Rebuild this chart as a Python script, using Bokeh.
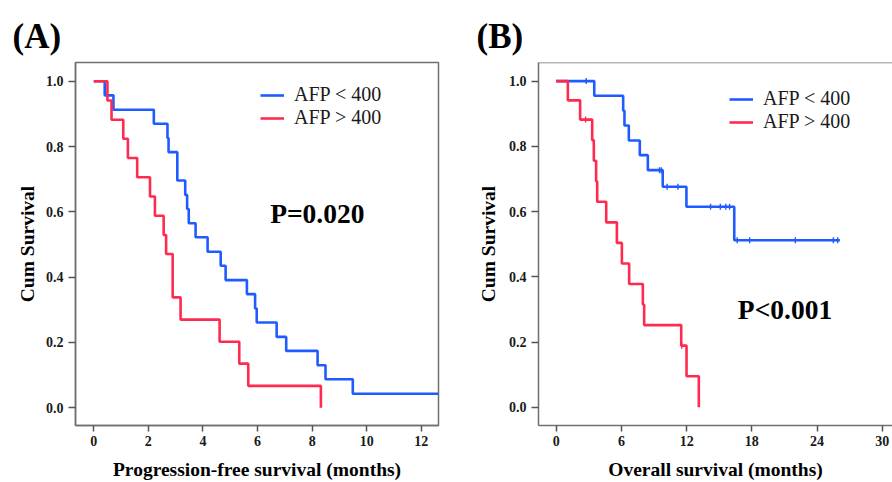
import numpy as np
from bokeh.plotting import figure
from bokeh.layouts import row
from bokeh.models import (Range1d, FixedTicker, PrintfTickFormatter, Legend,
                          LegendItem, Label, Span, ColumnDataSource)
from bokeh.embed import file_html
from bokeh.resources import INLINE

# ---------------- data ----------------
group_labels = ["AFP < 400", "AFP > 400"]
group_colors = ["#1f5bff", "#ff2a4f"]

# Panel A: progression-free survival (months)
pfs_low_time = [0, 0.40, 0.72, 2.20, 2.70, 2.74, 3.06, 3.35, 3.42, 3.48, 3.73,
                4.17, 4.65, 4.83, 5.61, 5.91, 5.97, 6.70, 7.05, 8.20, 8.49, 9.49, 13.5]
pfs_low_surv = [1.0, 0.957, 0.913, 0.870, 0.826, 0.783, 0.696, 0.652, 0.609, 0.565, 0.522,
                0.478, 0.435, 0.391, 0.348, 0.304, 0.261, 0.217, 0.174, 0.130, 0.087, 0.043, 0.043]
pfs_high_time = [0, 0.50, 0.65, 1.08, 1.25, 1.59, 2.06, 2.24, 2.56, 2.65, 2.89, 3.18,
                 4.61, 5.33, 5.66, 8.32]
pfs_high_surv = [1.0, 0.941, 0.882, 0.824, 0.765, 0.706, 0.647, 0.588, 0.529, 0.471, 0.338, 0.270,
                 0.202, 0.135, 0.067, 0.0]

# Panel B: overall survival (months)
os_low_time = [0, 3.50, 6.16, 6.28, 6.68, 7.69, 8.43, 9.80, 11.98, 16.38, 26.1]
os_low_surv = [1.0, 0.955, 0.909, 0.864, 0.818, 0.773, 0.727, 0.676, 0.615, 0.512, 0.512]
os_low_censor = [2.76, 9.50, 9.66, 10.2, 11.2, 14.2, 15.1, 15.6, 15.95, 16.65, 17.8, 22.0, 25.5, 25.9]
os_high_time = [0, 1.07, 2.20, 3.31, 3.46, 3.67, 3.77, 4.60, 5.58, 6.04, 6.71, 7.97, 8.09,
                11.50, 11.99, 13.12]
os_high_surv = [1.0, 0.941, 0.882, 0.819, 0.756, 0.693, 0.630, 0.567, 0.504, 0.441, 0.378,
                0.315, 0.252, 0.189, 0.095, 0.0]
os_high_censor = [2.70, 11.55]

pfs_x_ticks = [0, 2, 4, 6, 8, 10, 12]
os_x_ticks = [0, 6, 12, 18, 24, 30]
y_ticks = [0.0, 0.2, 0.4, 0.6, 0.8, 1.0]
panel_titles = ["(A)", "(B)"]
x_titles = ["Progression-free survival (months)", "Overall survival (months)"]
y_title = "Cum Survival"
p_texts = ["P=0.020", "P<0.001"]

SERIF = "Liberation Serif"
FRAME = "#6f6f6f"
TXT = "#1a1a1a"


def surv_at(times, survs, t):
    idx = 0
    for i, tt in enumerate(times):
        if tt <= t:
            idx = i
    return survs[idx]


def make_panel(title, xr, yr, xticks, xlabel, border, curves, censors,
               legend_loc, ptext, ppos, title_offset, full_outline, ylab_standoff):
    p = figure(width=border["w"], height=482, x_range=Range1d(*xr), y_range=Range1d(*yr),
               output_backend="svg", toolbar_location=None, title=title,
               min_border_left=border["l"], min_border_right=border["r"],
               min_border_top=border["t"], min_border_bottom=border["b"])
    p.background_fill_color = "white"
    p.border_fill_color = "white"
    p.xgrid.visible = False
    p.ygrid.visible = False
    if full_outline:
        p.outline_line_color = FRAME
        p.outline_line_width = 1.5
    else:
        p.outline_line_color = None
        p.add_layout(Span(location=yr[1], dimension="width", line_color=FRAME, line_width=1.5))

    p.title.text_font = SERIF
    p.title.text_font_size = "35px"
    p.title.text_font_style = "bold"
    p.title.text_color = "#000000"
    p.title.align = "left"
    p.title.offset = title_offset
    p.title.standoff = 14

    for ax in (p.xaxis[0], p.yaxis[0]):
        ax.axis_line_color = FRAME
        ax.axis_line_width = 1.5
        ax.major_tick_line_color = "#555555"
        ax.major_tick_line_width = 1.5
        ax.major_tick_in = 0
        ax.minor_tick_line_color = None
        ax.major_label_text_font = SERIF
        ax.major_label_text_font_size = "14px"
        ax.major_label_text_font_style = "bold"
        ax.major_label_text_color = TXT
        ax.axis_label_text_font = SERIF
        ax.axis_label_text_font_size = "19.5px"
        ax.axis_label_text_font_style = "bold"
        ax.axis_label_text_color = "#000000"

    p.xaxis.ticker = FixedTicker(ticks=xticks)
    p.xaxis.major_tick_out = 6
    p.xaxis.major_label_standoff = 4
    p.xaxis.axis_label = xlabel
    p.xaxis.axis_label_standoff = 10

    p.yaxis.ticker = FixedTicker(ticks=y_ticks)
    p.yaxis.formatter = PrintfTickFormatter(format="%.1f")
    p.yaxis.major_tick_out = 7
    p.yaxis.major_label_standoff = 5
    p.yaxis.axis_label = y_title
    p.yaxis.axis_label_standoff = ylab_standoff

    items = []
    for (t, s), label, color, cens in zip(curves, group_labels, group_colors, censors):
        src = ColumnDataSource(dict(t=t, s=s))
        r = p.step("t", "s", source=src, mode="after", line_color=color, line_width=2.6)
        items.append(LegendItem(label=label, renderers=[r]))
        if cens:
            cy = [surv_at(t, s, c) for c in cens]
            p.scatter(cens, cy, marker="dash", angle=np.pi / 2, size=6,
                      line_color=color, line_width=1.4)

    legend = Legend(items=items, location=legend_loc)
    legend.label_text_font = SERIF
    legend.label_text_font_size = "20px"
    legend.label_text_color = TXT
    legend.glyph_width = 24
    legend.glyph_height = 22
    legend.label_height = 22
    legend.label_standoff = 10
    legend.spacing = 0
    legend.padding = 0
    legend.margin = 0
    legend.border_line_color = None
    legend.background_fill_alpha = 0
    p.add_layout(legend)

    p.add_layout(Label(x=ppos[0], y=ppos[1], text=ptext, text_font=SERIF,
                       text_font_size="27.5px", text_font_style="bold",
                       text_color="#000000", text_align="center", text_baseline="middle"))
    return p


pA = make_panel(panel_titles[0], (-0.67, 12.63), (-0.0545, 1.0576), pfs_x_ticks, x_titles[0],
                dict(w=448, l=75, r=10, t=59, b=56),
                [(pfs_low_time, pfs_low_surv), (pfs_high_time, pfs_high_surv)],
                [[], []], (185, 296), p_texts[0], (8.19, 0.594), -63, True, 5)

pB = make_panel(panel_titles[1], (-1.63, 30.94), (-0.0558, 1.057), os_x_ticks, x_titles[1],
                dict(w=444, l=90, r=0, t=62, b=55),
                [(os_low_time, os_low_surv), (os_high_time, os_high_surv)],
                [os_low_censor, os_high_censor], (191, 292), p_texts[1], (21.05, 0.301), -62,
                False, 7)

layout = row(pA, pB)
open("out.html", "w").write(file_html(layout, INLINE))
